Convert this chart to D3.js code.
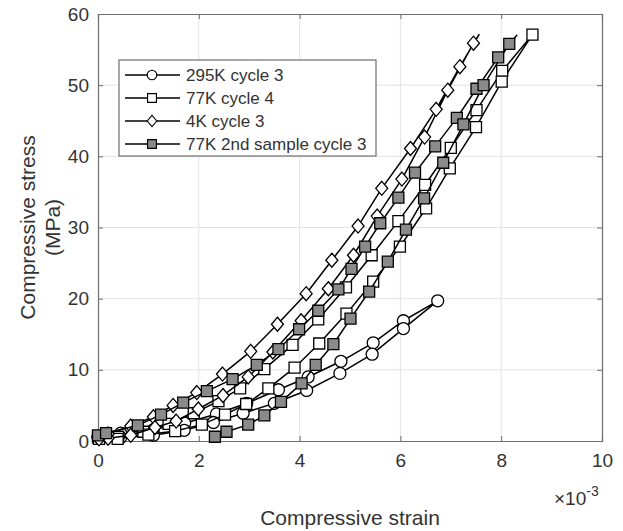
<!DOCTYPE html>
<html>
<head>
<meta charset="utf-8">
<script src="https://cdn.jsdelivr.net/npm/d3@7/dist/d3.min.js"></script>
<style>
  body { margin: 0; background: #fff; }
  text { font-family: "Liberation Sans", Arial, Helvetica, sans-serif; fill: #333; }
</style>
</head>
<body>
<svg id="chart" width="623" height="531"></svg>
<script>
// Strain values are in units of 1e-3 (axis shows the x10^-3 multiplier)
// Each series is one closed cycle: loading branch up to the peak, then unloading.

var strain295K = [0, 0.45, 1.10, 1.72, 2.35, 2.95, 3.58, 4.17, 4.82, 5.46, 6.06, 6.74,
                  6.06, 5.44, 4.80, 4.14, 3.50, 2.88, 2.29, 1.71, 1.10, 0.45, 0.02];
var stress295K = [0.6, 1.1, 1.6, 2.5, 3.8, 5.3, 7.2, 9.0, 11.2, 13.8, 16.9, 19.7,
                  15.8, 12.2, 9.5, 7.1, 5.3, 3.9, 2.6, 1.5, 0.8, 0.5, 0.5];

var strain77K = [0, 0.40, 0.90, 1.40, 1.90, 2.39, 2.82, 3.30, 3.86, 4.37, 4.92, 5.43, 5.96, 6.49, 7.00, 7.51, 8.02, 8.62,
                 8.01, 7.50, 6.98, 6.51, 5.99, 5.46, 4.93, 4.39, 3.90, 3.38, 2.94, 2.52, 2.06, 1.53, 1.00, 0.39, 0.02];
var stress77K = [0.5, 0.6, 1.3, 2.4, 3.9, 5.6, 7.4, 10.1, 13.5, 17.1, 21.6, 26.1, 30.9, 36.0, 41.2, 46.5, 52.0, 57.1,
                 50.5, 44.1, 38.3, 32.7, 27.3, 22.4, 17.9, 13.7, 10.3, 7.4, 5.2, 3.7, 2.3, 1.4, 0.9, 0.3, 0.3];

var strain4K = [0, 0.20, 0.65, 1.10, 1.49, 1.96, 2.47, 3.03, 3.56, 4.13, 4.64, 5.16, 5.63, 6.20, 6.71, 7.18, 7.56,
                7.45, 6.94, 6.48, 6.03, 5.54, 5.07, 4.57, 4.03, 3.47, 2.98, 2.48, 1.99, 1.55, 1.13, 0.65, 0.20, 0.02];
var stress4K = [0.5, 1.0, 2.1, 3.4, 5.0, 6.8, 9.4, 12.6, 16.4, 20.7, 25.4, 30.2, 35.5, 41.1, 46.6, 52.6, 57.1,
                55.9, 49.3, 42.7, 36.8, 31.6, 26.1, 21.4, 16.9, 12.5, 9.0, 6.4, 4.5, 2.8, 1.9, 0.8, 0.4, 0.3];

var strain77K2 = [0, 0.16, 0.79, 1.25, 1.69, 2.16, 2.67, 3.15, 3.58, 3.99, 4.37, 4.77, 5.03, 5.30, 5.60, 5.96, 6.29, 6.69, 7.12, 7.51, 7.94, 8.31,
                  8.16, 7.65, 7.25, 6.85, 6.47, 6.11, 5.75, 5.38, 5.01, 4.67, 4.32, 4.04, 3.63, 3.30, 2.98, 2.55, 2.32];
var stress77K2 = [0.8, 1.1, 2.2, 3.7, 5.4, 7.0, 8.7, 10.7, 12.9, 15.7, 18.3, 21.3, 24.2, 27.3, 30.6, 34.2, 37.7, 41.4, 45.4, 49.5, 53.9, 57.0,
                  55.8, 50.0, 44.5, 39.1, 34.1, 29.7, 25.2, 21.0, 17.2, 13.6, 10.7, 8.1, 5.5, 3.6, 2.3, 1.3, 0.6];

var xTicks = [0, 2, 4, 6, 8, 10];
var yTicks = [0, 10, 20, 30, 40, 50, 60];

var seriesNames = ["295K cycle 3", "77K cycle 4", "4K cycle 3", "77K 2nd sample cycle 3"];

// marker style per series; markPeak = marker drawn on the peak point
var series = [
  {name: seriesNames[0], x: strain295K, y: stress295K, shape: "circle", fill: "#fff", markPeak: true},
  {name: seriesNames[1], x: strain77K, y: stress77K, shape: "square", fill: "#fff", markPeak: true},
  {name: seriesNames[2], x: strain4K, y: stress4K, shape: "diamond", fill: "#fff", markPeak: false},
  {name: seriesNames[3], x: strain77K2, y: stress77K2, shape: "square", fill: "#8a8a8a", markPeak: false}
];

var svg = d3.select("#chart"),
    margin = {top: 14, right: 21, bottom: 90, left: 98},
    width = 623 - margin.left - margin.right,
    height = 531 - margin.top - margin.bottom;

var g = svg.append("g").attr("transform", "translate(" + margin.left + "," + margin.top + ")");

var x = d3.scaleLinear().domain([0, 10]).range([0, width]);
var y = d3.scaleLinear().domain([0, 60]).range([height, 0]);

// grid lines
g.append("g").selectAll("line.gx")
  .data(xTicks.slice(1, -1))
  .enter().append("line")
    .attr("x1", function(d) { return x(d); })
    .attr("x2", function(d) { return x(d); })
    .attr("y1", 0).attr("y2", height)
    .attr("stroke", "#e3e3e3").attr("stroke-width", 1);
g.append("g").selectAll("line.gy")
  .data(yTicks.slice(1, -1))
  .enter().append("line")
    .attr("y1", function(d) { return y(d); })
    .attr("y2", function(d) { return y(d); })
    .attr("x1", 0).attr("x2", width)
    .attr("stroke", "#e3e3e3").attr("stroke-width", 1);

// axes (inner ticks, MATLAB style)
g.append("g")
    .attr("transform", "translate(0," + height + ")")
    .call(d3.axisBottom(x).tickValues(xTicks).tickSize(-5).tickPadding(13));
g.append("g")
    .call(d3.axisLeft(y).tickValues(yTicks).tickSize(-5).tickPadding(9));
g.append("g").call(d3.axisTop(x).tickValues(xTicks).tickSize(-5).tickFormat(""));
g.append("g").attr("transform", "translate(" + width + ",0)")
    .call(d3.axisRight(y).tickValues(yTicks).tickSize(-5).tickFormat(""));

g.selectAll(".domain").attr("stroke", "#6e6e6e").attr("stroke-width", 1.2);
g.selectAll(".tick line").attr("stroke", "#6e6e6e");
g.selectAll(".tick text").attr("font-size", 19).attr("fill", "#333")
    .attr("font-family", "Liberation Sans, Arial, sans-serif");

// multiplier and axis titles
var mult = svg.append("text").attr("x", 554).attr("y", 505).attr("font-size", 19);
mult.append("tspan").text("\u00d710");
mult.append("tspan").attr("dy", -9).attr("font-size", 14).text("-3");

svg.append("text")
    .attr("x", margin.left + width / 2).attr("y", 525)
    .attr("text-anchor", "middle").attr("font-size", 21)
    .text("Compressive strain");

svg.append("text")
    .attr("transform", "translate(28," + (margin.top + height / 2) + ") rotate(-90)")
    .attr("text-anchor", "middle").attr("dy", "0.35em").attr("font-size", 21)
    .text("Compressive stress");
svg.append("text")
    .attr("transform", "translate(53," + (margin.top + height / 2) + ") rotate(-90)")
    .attr("text-anchor", "middle").attr("dy", "0.35em").attr("font-size", 21)
    .text("(MPa)");

// marker path generator
function markerPath(shape) {
  if (shape == "circle") return d3.symbol().type(d3.symbolCircle).size(Math.PI * 6 * 6)();
  if (shape == "square") return "M-5.5,-5.5H5.5V5.5H-5.5Z";
  return "M0,-7L6,0L0,7L-6,0Z";
}

var line = d3.line()
    .x(function(d) { return x(d[0]); })
    .y(function(d) { return y(d[1]); });

series.forEach(function(s) {
  var pts = s.x.map(function(v, i) { return [v, s.y[i]]; });
  var peak = d3.maxIndex(s.y);

  g.append("path")
    .datum(pts)
    .attr("d", line)
    .attr("fill", "none")
    .attr("stroke", "#000")
    .attr("stroke-width", 1.5)
    .attr("stroke-linejoin", "round");

  g.append("g").selectAll("path")
    .data(pts.filter(function(d, i) { return s.markPeak || i != peak; }))
    .enter().append("path")
      .attr("transform", function(d) { return "translate(" + x(d[0]) + "," + y(d[1]) + ")"; })
      .attr("d", markerPath(s.shape))
      .attr("fill", s.fill)
      .attr("stroke", "#000")
      .attr("stroke-width", 1.3);
});

// legend
var legend = svg.append("g").attr("transform", "translate(119,60)");
legend.append("rect")
    .attr("width", 257).attr("height", 96)
    .attr("fill", "#fff").attr("stroke", "#6e6e6e").attr("stroke-width", 1.2);

series.forEach(function(s, i) {
  var row = legend.append("g").attr("transform", "translate(0," + (15 + i * 23) + ")");
  row.append("line").attr("x1", 6).attr("x2", 61).attr("stroke", "#000").attr("stroke-width", 1.5);
  row.append("path")
    .attr("transform", "translate(33,0) scale(0.8)")
    .attr("d", markerPath(s.shape))
    .attr("fill", s.fill).attr("stroke", "#000").attr("stroke-width", 1.4);
  row.append("text").attr("x", 67).attr("dy", "0.35em").attr("font-size", 17).text(s.name);
});
</script>
</body>
</html>
